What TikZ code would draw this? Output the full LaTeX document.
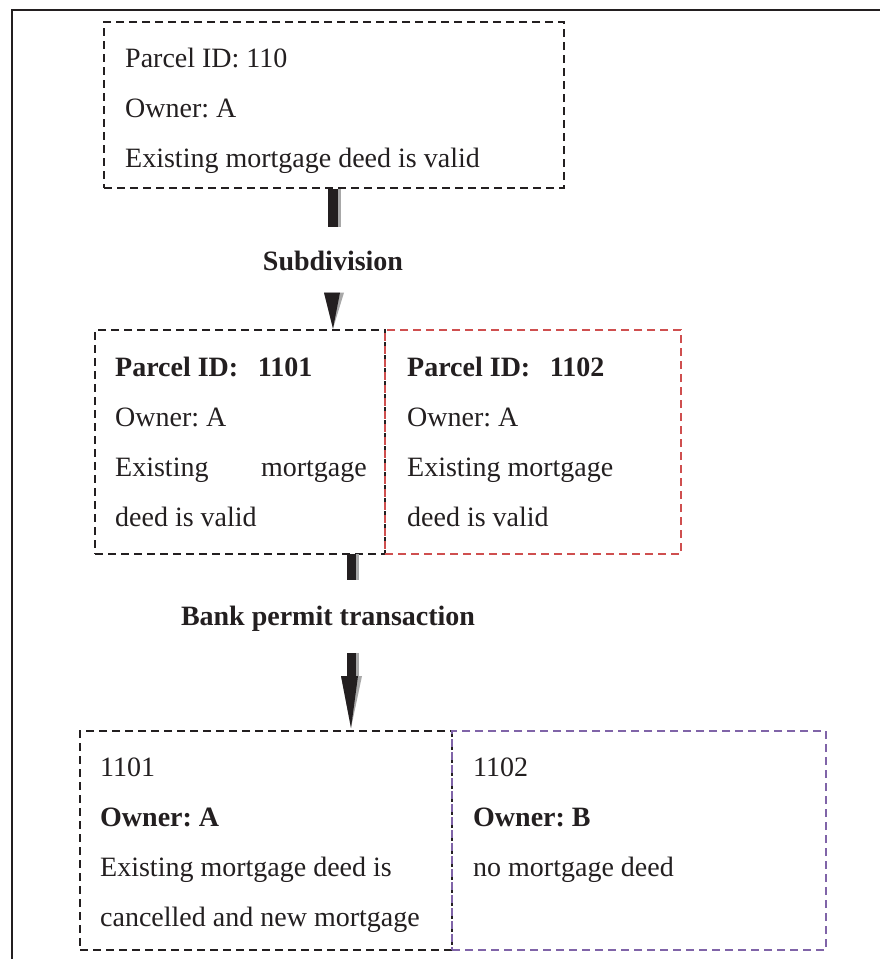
\documentclass[tikz,border=0pt]{standalone}
\usepackage{fontspec}
\setmainfont{Liberation Serif}
\usetikzlibrary{calc}
\definecolor{ink}{HTML}{231F20}
\definecolor{redbox}{HTML}{CF4F4F}
\definecolor{purplebox}{HTML}{8064A8}
\definecolor{shadowc}{HTML}{A8A8A8}
\frenchspacing
\begin{document}
\begin{tikzpicture}[x=1pt,y=-1pt,
  box/.style={draw=ink, line width=2.8pt, dash pattern=on 8pt off 5pt, inner sep=0pt},
  txt/.style={anchor=base west, inner sep=0pt, font=\fontsize{28}{28}\selectfont, text=ink},
  btxt/.style={txt, font=\fontsize{28}{28}\selectfont\bfseries},
  lbl/.style={anchor=base, inner sep=0pt, font=\fontsize{28}{28}\selectfont\bfseries, text=ink}]
\useasboundingbox (0,0) rectangle (879,959);
\fill[white] (0,0) rectangle (879,959);
% outer frame
\draw[ink, line width=1.8pt] (12,970) -- (12,10) -- (890,10);

% boxes
\node[box, minimum width=460pt, minimum height=166pt] (b1) at (334,105) {};
\node[box, minimum width=290pt, minimum height=224pt] (b2l) at (240,442) {};
\node[box, draw=redbox, minimum width=296pt, minimum height=224pt] (b2r) at (533,442) {};
\node[box, minimum width=372pt, minimum height=219pt] (b3l) at (266,840.5) {};
\node[box, draw=purplebox, minimum width=374pt, minimum height=219pt] (b3r) at (639,840.5) {};

% texts, first box
\node[txt] (t11) at (125,67) {Parcel ID: 110};
\node[txt] (t12) at (125,117) {Owner: A};
\node[txt] (t13) at (125,167) {Existing mortgage deed is valid};

% texts, second row
\node[btxt] (t21) at (115,376) {Parcel ID:\hspace{0.7em}1101};
\node[txt] (t22) at (115,426) {Owner: A};
\node[txt] (t23a) at (115,476) {Existing};
\node[txt, anchor=base east] (t23b) at (367,476) {mortgage};
\node[txt] (t24) at (115,526) {deed is valid};

\node[btxt] (t31) at (407,376) {Parcel ID:\hspace{0.7em}1102};
\node[txt] (t32) at (407,426) {Owner: A};
\node[txt] (t33) at (407,476) {Existing mortgage};
\node[txt] (t34) at (407,526) {deed is valid};

% texts, third row
\node[txt] (t41) at (100,776) {1101};
\node[btxt] (t42) at (100,826) {Owner: A};
\node[txt] (t43) at (100,876) {Existing mortgage deed is};
\node[txt] (t44) at (100,926) {cancelled and new mortgage};

\node[txt] (t51) at (473,776) {1102};
\node[btxt] (t52) at (473,826) {Owner: B};
\node[txt] (t53) at (473,876) {no mortgage deed};

% step labels
\node[lbl] (sub) at (333,270) {Subdivision};
\node[lbl] (bank) at (328,625) {Bank permit transaction};

% arrow 1: box b1 -> b2l
\coordinate (a1s) at (sub.north |- b1.south);
\coordinate (a1t) at (sub.north |- b2l.north);
\fill[shadowc] ($(a1s)+(-1,0)$) rectangle ($(a1s)+(8,38)$);
\fill[ink] ($(a1s)+(-5,0)$) rectangle ($(a1s)+(5,38)$);
\fill[shadowc] (a1t) -- ($(a1t)+(-9,-36)$) -- ($(a1t)+(11,-36)$) -- cycle;
\fill[ink] (a1t) -- ($(a1t)+(-9,-36)$) -- ($(a1t)+(7,-36)$) -- cycle;

% arrow 2: b2l -> b3l
\coordinate (a2s) at (352,554);
\coordinate (a2m) at (352,653);
\coordinate (a2t) at (351,728);
\fill[shadowc] ($(a2s)+(-1,0)$) rectangle ($(a2s)+(7,26)$);
\fill[ink] ($(a2s)+(-5,0)$) rectangle ($(a2s)+(4,26)$);
\fill[shadowc] ($(a2m)+(-1,0)$) rectangle ($(a2m)+(7,25)$);
\fill[ink] ($(a2m)+(-5,0)$) rectangle ($(a2m)+(4,25)$);
\fill[shadowc] (a2t) -- ($(a2t)+(-10,-52)$) -- ($(a2t)+(11,-52)$) -- cycle;
\fill[ink] (a2t) -- ($(a2t)+(-10,-52)$) -- ($(a2t)+(7,-52)$) -- cycle;
\end{tikzpicture}
\end{document}
